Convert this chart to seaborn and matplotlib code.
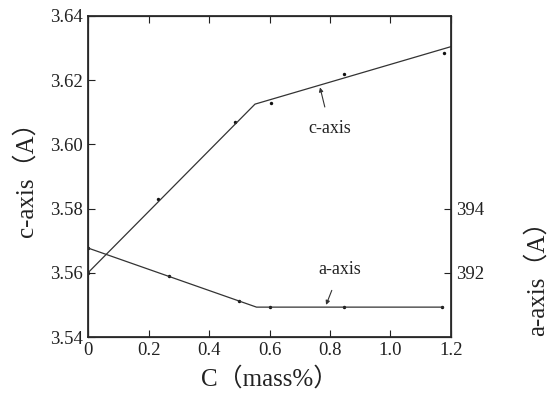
import matplotlib
matplotlib.use("Agg")
import matplotlib.pyplot as plt
import seaborn as sns
import pandas as pd

# c-axis data (left axis)
c_x = [0.0, 0.23, 0.486, 0.605, 0.847, 1.177]
c_y = [3.560, 3.583, 3.607, 3.613, 3.622, 3.6285]
c_fit_x = [0.0, 0.552, 1.2]
c_fit_y = [3.560, 3.6125, 3.6304]

# a-axis data (right axis)
a_x = [0.0, 0.268, 0.499, 0.602, 0.845, 1.171]
a_y = [392.77, 391.89, 391.11, 390.93, 390.93, 390.93]
a_fit_x = [0.0, 0.557, 1.175]
a_fit_y = [392.77, 390.93, 390.93]

x_ticks = [0, 0.2, 0.4, 0.6, 0.8, 1.0, 1.2]
x_ticklabels = ["0", "0.2", "0.4", "0.6", "0.8", "1.0", "1.2"]
c_ticks = [3.54, 3.56, 3.58, 3.60, 3.62, 3.64]
a_ticks = [392, 394]

sns.set_theme(style="white")
fam = ["Liberation Serif", "Noto Sans CJK JP", "DejaVu Sans"]
plt.rcParams["font.family"] = fam
plt.rcParams["xtick.direction"] = "in"
plt.rcParams["ytick.direction"] = "in"

fig = plt.figure(figsize=(5.55, 4.0), dpi=100)
ax = fig.add_axes([0.1586, 0.1575, 0.654, 0.803])
lc = "#333333"

sns.lineplot(x=c_fit_x, y=c_fit_y, ax=ax, color=lc, linewidth=0.9)
sns.scatterplot(x=c_x, y=c_y, ax=ax, color="#111111", s=6, edgecolor=None, linewidth=0)

ax.set_xlim(0, 1.2)
ax.set_ylim(3.54, 3.64)
ax.set_xticks(x_ticks)
ax.set_xticklabels(x_ticklabels)
ax.set_yticks(c_ticks)
ax.set_yticklabels([f"{v:.2f}" for v in c_ticks])
ax.tick_params(axis="both", labelsize=13.5, colors="#222222", length=5, width=0.8,
               top=True, right=True, left=True, bottom=True)
ax.tick_params(axis="y", right=True, labelright=False)
for s in ax.spines.values():
    s.set_color("#444444")
    s.set_linewidth(0.9)

ax2 = ax.twinx()
sns.lineplot(x=a_fit_x, y=a_fit_y, ax=ax2, color=lc, linewidth=0.9)
sns.scatterplot(x=a_x, y=a_y, ax=ax2, color="#111111", s=6, edgecolor=None, linewidth=0)
ax2.set_ylim(390, 400)
ax2.set_yticks(a_ticks)
ax2.set_yticklabels([str(v) for v in a_ticks])
ax2.tick_params(axis="y", labelsize=13.5, colors="#222222", length=5, width=0.8, direction="in")
ax2.grid(False)
ax.grid(False)

ax.set_xlabel("C（mass%）", fontsize=18, color="#222222", family=fam, labelpad=6)
ax.set_ylabel("c-axis（A）", fontsize=18, color="#222222", family=fam, labelpad=8)
ax.yaxis.set_label_coords(-0.138, 0.51)
ax2.set_ylabel("a-axis（A）", fontsize=18, color="#222222", family=fam, labelpad=10)
ax2.yaxis.set_label_coords(1.203, 0.2)

ax.annotate("c-axis", xy=(0.767, 3.6177), xytext=(0.80, 3.6050),
            fontsize=13, ha="center", va="center", color="#222222", family=fam,
            arrowprops=dict(arrowstyle="-|>", color="#333333", lw=0.8, mutation_scale=6,
                            shrinkA=7, shrinkB=0))
ax2.annotate("a-axis", xy=(0.787, 391.0), xytext=(0.833, 392.1),
             fontsize=13, ha="center", va="center", color="#222222", family=fam,
             arrowprops=dict(arrowstyle="-|>", color="#333333", lw=0.8, mutation_scale=6,
                             shrinkA=7, shrinkB=0))

fig.savefig("out.png", dpi=100)
